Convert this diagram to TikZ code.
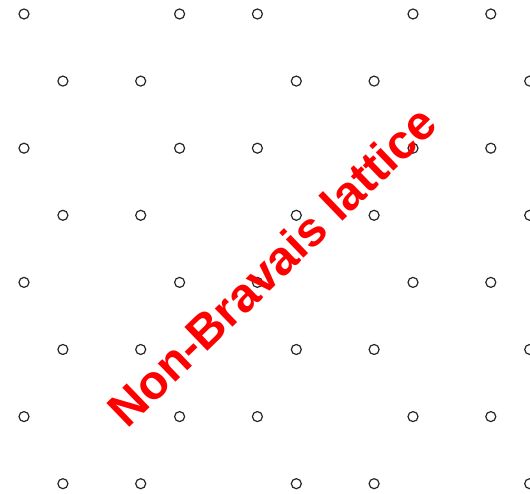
\documentclass[tikz,border=0pt]{standalone}
\usepackage{fontspec}
\setmainfont{Liberation Sans}
\begin{document}
\begin{tikzpicture}[x=1pt,y=1pt]
	\useasboundingbox (0,0) rectangle (530,494);
	\tikzset{site/.style={draw=black!85, line width=1.2pt}}
	% rows A and B of the honeycomb
	\foreach \k in {0,2,4,6} {
		\foreach \u in {0,2,3,5,6}
			\draw[site] (24+77.8*\u, 480-67.1*\k) circle[radius=5];
	}
	\foreach \k in {1,3,5,7} {
		\foreach \u in {0.5,1.5,3.5,4.5,6.5}
			\draw[site] (24+77.8*\u, 480-67.1*\k) circle[radius=5];
	}
	\node[text=red, font=\fontsize{48}{48}\selectfont\bfseries, rotate=44, anchor=base west, inner sep=0] (title) at (127,64.6) {Non-Bravais lattice};
\end{tikzpicture}
\end{document}
